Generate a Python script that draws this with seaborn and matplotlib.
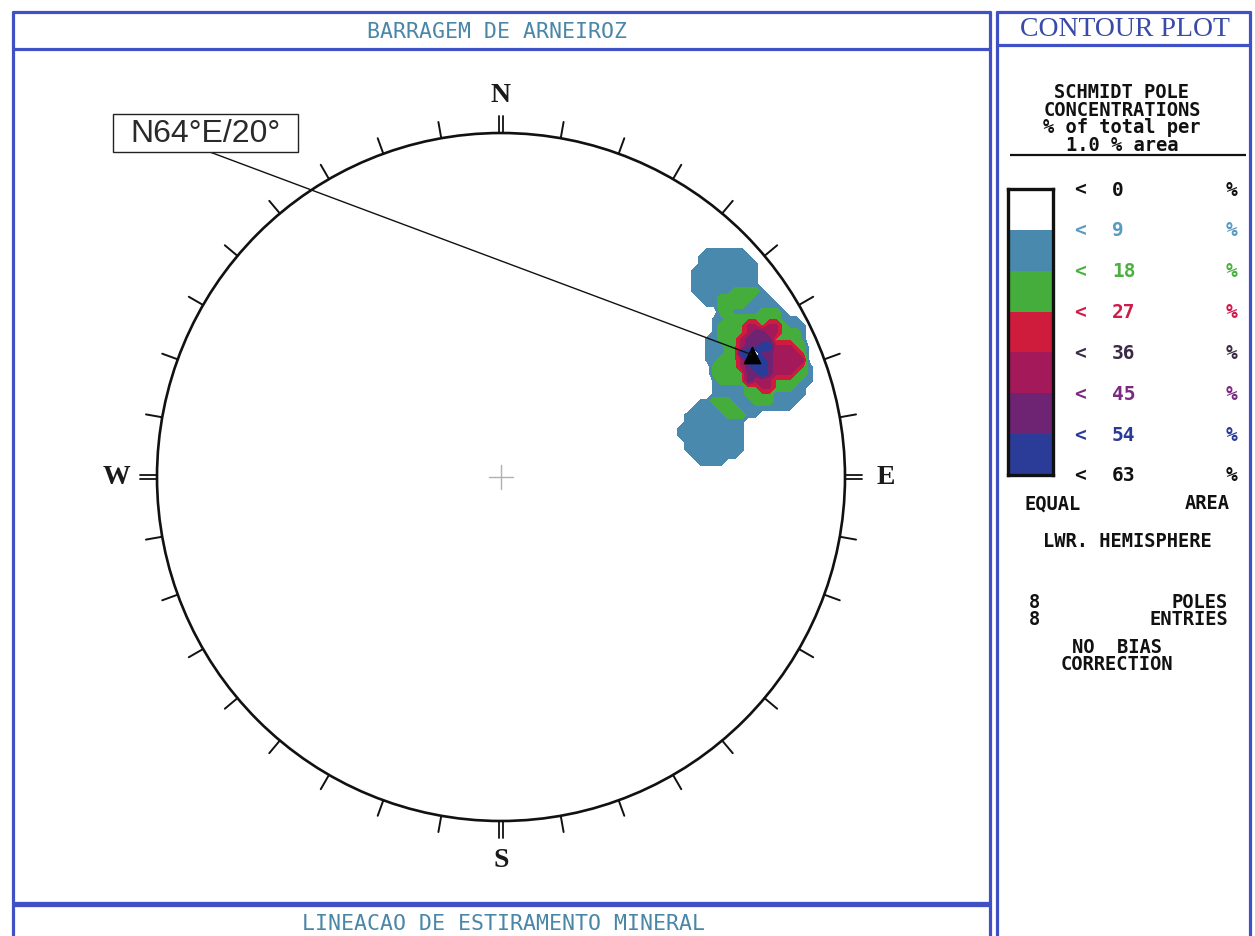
import numpy as np
import matplotlib
matplotlib.use("Agg")
import matplotlib.pyplot as plt
import seaborn as sns
from matplotlib.colors import ListedColormap
from matplotlib.patches import Circle

# Mineral stretching lineations (trend, plunge in degrees)
trend = [48.5, 57.5, 62, 69, 64, 70, 66.5, 78]
plunge = [14, 16, 23, 26, 12.5, 15.5, 14.5, 37]

# Mean lineation
mean_trend, mean_plunge = 64, 20
mean_label = "N64°E/20°"

# Contour intervals (% of total per 1 % area) and their fills
levels = [0, 9, 18, 27, 36, 45, 54, 63]
level_colors = ["#ffffff", "#4a89ae", "#45ad3c", "#cf1b3c", "#a3195a", "#6e2473", "#2b3c98"]
label_colors = ["#111111", "#5a9abf", "#4cb040", "#cf1b4a", "#3a2a45", "#7a2a80", "#2a3a98", "#111111"]

title_top = "BARRAGEM DE ARNEIROZ"
title_bottom = "LINEACAO DE ESTIRAMENTO MINERAL"
panel_title = "CONTOUR PLOT"
panel_header = ["SCHMIDT POLE", "CONCENTRATIONS", "% of total per", "1.0 % area"]

FRAME = "#3f51c4"
TITLE_TEAL = "#4a86a8"
INK = "#111111"
MONO = "DejaVu Sans Mono"


def project(tr, pl):
    """Lambert equal-area, lower hemisphere, unit primitive circle."""
    tr = np.radians(np.asarray(tr, float))
    pl = np.radians(np.asarray(pl, float))
    r = np.sqrt(2.0) * np.sin((np.pi / 2 - pl) / 2)
    return r * np.sin(tr), r * np.cos(tr)


sns.set_theme(style="white")
plt.rcParams["font.family"] = ["DejaVu Sans"]

W, H = 1255, 937
fig = plt.figure(figsize=(W / 100, H / 100), dpi=100)
fig.patch.set_facecolor("white")

# ---- background layer in pixel coordinates: frames and side panel text
bg = fig.add_axes([0, 0, 1, 1])
bg.set_xlim(0, W)
bg.set_ylim(H, 0)
bg.axis("off")
bg.patch.set_visible(False)


def hline(y, x0, x1, lw=2.3, color=FRAME):
    bg.plot([x0, x1], [y, y], color=color, lw=lw, solid_capstyle="butt")


def vline(x, y0, y1, lw=2.3, color=FRAME):
    bg.plot([x, x], [y0, y1], color=color, lw=lw, solid_capstyle="butt")


def mono(x, y, s, color=INK, ha="center", size=13.5, **kw):
    bg.text(x, y, s, ha=ha, va="center", family=MONO, fontsize=size,
            fontweight="bold", color=color, **kw)


# left panel
vline(13, 12, H + 5)
vline(990, 12, H + 5)
hline(13, 12, 991)
hline(50, 12, 991)
hline(905, 12, 991, lw=3.8)
# right panel
vline(997, 12, H + 5)
vline(1250, 12, H + 5)
hline(13, 996, 1251)
hline(46, 996, 1251)

bg.text(497, 32, title_top, ha="center", va="center", family=MONO,
        fontsize=15.5, color=TITLE_TEAL)
bg.text(503, 924, title_bottom, ha="center", va="center", family=MONO,
        fontsize=15.5, color=TITLE_TEAL)
bg.text(1125, 30, panel_title, ha="center", va="center", family="Liberation Serif",
        fontsize=20, color="#3a4aa8")

mono(1122, 119, "\n".join(panel_header), linespacing=0.92)
hline(156, 1010, 1246, lw=1.6, color=INK)

# legend rows at the class boundaries
top_px, bot_px = 190, 476
step = (bot_px - top_px) / (len(levels) - 1)
for i, (lev, col) in enumerate(zip(levels, label_colors)):
    y = top_px + i * step
    mono(1080, y, "<", color=col, size=14)
    mono(1112, y, str(lev), color=col, ha="left", size=14)
    mono(1232, y, "%", color=col, size=14)

mono(1025, 504, "EQUAL", ha="left")
mono(1230, 504, "AREA", ha="right")
mono(1127, 542, "LWR. HEMISPHERE")
n_poles = len(trend)
mono(1034, 611, f"{n_poles}\n{n_poles}", linespacing=0.92)
mono(1228, 611, "POLES\nENTRIES", ha="right", multialignment="right", linespacing=0.92)
mono(1117, 656, "NO  BIAS\nCORRECTION", multialignment="center", linespacing=0.92)

# ---- colour key as a one-column heatmap
key = fig.add_axes([1008 / W, 1 - bot_px / H, 45 / W, (bot_px - top_px) / H])
sns.heatmap(np.arange(len(level_colors)).reshape(-1, 1), ax=key,
            cmap=ListedColormap(level_colors), cbar=False,
            xticklabels=False, yticklabels=False, linewidths=0)
for sp in key.spines.values():
    sp.set_visible(True)
    sp.set_color(INK)
    sp.set_linewidth(2.4)

# ---- the stereonet
cx, cy, R = 501, 478, 344
half = 420
net = fig.add_axes([(cx - half) / W, 1 - (cy + half) / H, 2 * half / W, 2 * half / H])
lim = half / R
net.set_xlim(-lim, lim)
net.set_ylim(-lim, lim)
net.axis("off")
net.patch.set_visible(False)

# Schmidt counting: circle of 1 % of the net area evaluated on a regular grid
px, py = project(trend, plunge)
count_radius = 0.1
grid = np.arange(-1.0, 1.0 + 1e-9, 0.02)
gx, gy = np.meshgrid(grid, grid)
d2 = (gx[..., None] - px) ** 2 + (gy[..., None] - py) ** 2
density = (d2 < count_radius ** 2).sum(axis=-1) * 100.0 / len(trend)
density[gx ** 2 + gy ** 2 > 1] = 0
net.contourf(gx, gy, density, levels=levels[1:], colors=level_colors[1:], zorder=1)

# primitive circle and 10-degree ticks
net.add_patch(Circle((0, 0), 1.0, fill=False, ec=INK, lw=1.9, zorder=3))
for az in range(0, 360, 10):
    a = np.radians(az)
    ux, uy = np.sin(a), np.cos(a)
    if az % 90 == 0:
        off = 0.006
        for s in (-1, 1):
            ox, oy = s * off * uy, -s * off * ux
            net.plot([ux + ox, 1.05 * ux + ox], [uy + oy, 1.05 * uy + oy],
                     color=INK, lw=1.3, zorder=3)
    else:
        net.plot([ux, 1.048 * ux], [uy, 1.048 * uy], color=INK, lw=1.4, zorder=3)

for az, lab in zip([0, 90, 180, 270], ["N", "E", "S", "W"]):
    a = np.radians(az)
    net.text(1.118 * np.sin(a), 1.113 * np.cos(a), lab, ha="center", va="center",
             family="Liberation Serif", fontweight="bold", fontsize=20, color="#1a1a1a")

# centre cross
c = 0.036
net.plot([-c, c], [0, 0], color="#b0b0b0", lw=1.0, zorder=2)
net.plot([0, 0], [-c, c], color="#b0b0b0", lw=1.0, zorder=2)

# mean lineation with its label
mx, my = project(mean_trend, mean_plunge)
sns.scatterplot(x=[float(mx)], y=[float(my)], ax=net, marker="^", s=140,
                color="#000000", edgecolor="#000000", zorder=5, legend=False)
net.annotate(mean_label, xy=(float(mx), float(my)), xytext=(-0.86, 1.0),
             textcoords="data", ha="center", va="center", family="Liberation Sans",
             fontsize=23, color="#2a2a2a", zorder=6,
             bbox=dict(boxstyle="square,pad=0.55", mutation_aspect=0.23,
                       fc="white", ec="#222222", lw=1.0),
             arrowprops=dict(arrowstyle="-", color=INK, lw=1.0,
                             relpos=(0.46, 0.0), shrinkA=0, shrinkB=0))
net.set_xlabel("")
net.set_ylabel("")

fig.savefig("out.png", dpi=100, facecolor="white")
